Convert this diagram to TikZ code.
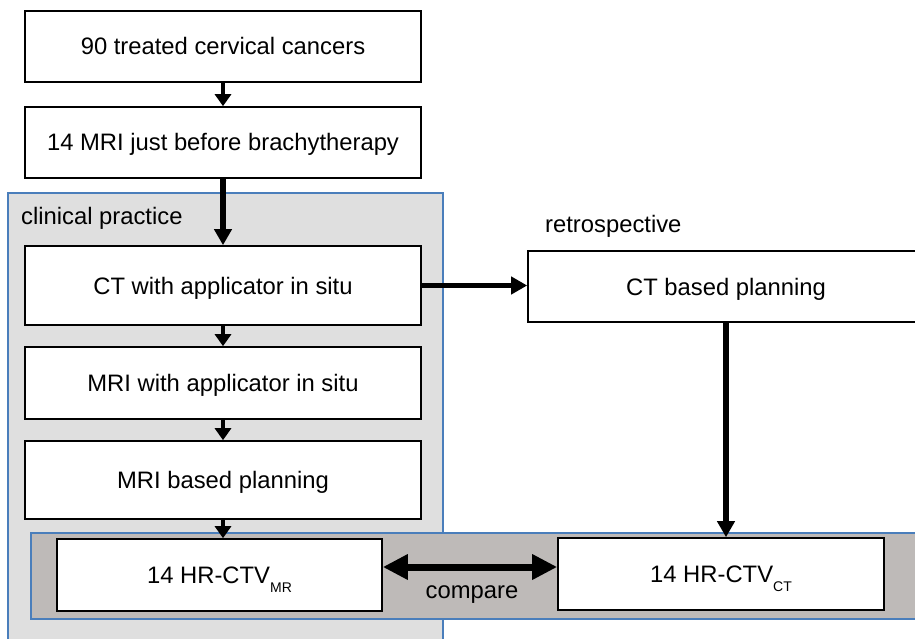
\documentclass[tikz,border=0pt]{standalone}
\usepackage{fontspec}
\setmainfont{Liberation Sans}
\usetikzlibrary{arrows.meta,calc}
\definecolor{panelblue}{RGB}{74,126,187}
\definecolor{lightpanel}{RGB}{223,223,223}
\definecolor{darkpanel}{RGB}{190,186,184}
\begin{document}
\begin{tikzpicture}[x=1pt,y=-1pt, font=\fontsize{23.8}{28}\selectfont,
 box/.style={draw=black, line width=1.6pt, fill=white, inner sep=0pt, text height=17pt, text depth=0pt, align=center},
 panel/.style={draw=panelblue, line width=2.2pt},
 thinarrow/.style={line width=3.5pt, -{Triangle[length=12pt,width=16pt]}},
 thickarrow/.style={line width=5.5pt, -{Triangle[length=16pt,width=17pt]}},
 cmparrow/.style={line width=7pt, {Triangle[length=25pt,width=24pt]}-{Triangle[length=25pt,width=24pt]}},
 lbl/.style={inner sep=0pt, anchor=base west}]
\useasboundingbox (0,0) rectangle (915,639);
\clip (0,0) rectangle (915,639);
\fill[white] (0,0) rectangle (915,639);
% panels
\draw[panel, fill=lightpanel] (8,193) rectangle (443,690);
\draw[panel, fill=darkpanel] (31,533) rectangle (960,619);
% boxes
\node[box, minimum width=396pt, minimum height=71pt] (b1) at (223,46.5) {90 treated cervical cancers};
\node[box, minimum width=396pt, minimum height=71pt] (b2) at (223,142.5) {14 MRI just before brachytherapy};
\node[box, minimum width=396pt, minimum height=79pt] (ct) at (223,285.5) {CT with applicator in situ};
\node[box, minimum width=396pt, minimum height=72pt] (mri) at (223,383) {MRI with applicator in situ};
\node[box, minimum width=396pt, minimum height=78pt] (mp) at (223,480) {MRI based planning};
\node[box, minimum width=396pt, minimum height=71pt] (ctp) at (726,286.5) {CT based planning};
\node[box, minimum width=325pt, minimum height=72pt] (hrmr) at (219.5,575) {14 HR-CTV\raisebox{-9pt}{\fontsize{14}{14}\selectfont MR}};
\node[box, minimum width=326pt, minimum height=72pt] (hrct) at (721,574) {14 HR-CTV\raisebox{-9pt}{\fontsize{14}{14}\selectfont CT}};
% labels
\node[lbl] (cp) at (21,225) {clinical practice};
\node[lbl] (rs) at (545,232) {retrospective};
\node[inner sep=0pt, anchor=base] (cmp) at (472,598) {compare};
% arrows
\draw[thinarrow] (b1) -- (b2);
\draw[thickarrow] (b2) -- (ct);
\draw[thickarrow] (ct.east) -- (ct.east -| ctp.west);
\draw[thinarrow] (ct) -- (mri);
\draw[thinarrow] (mri) -- (mp);
\draw[thinarrow] (mp.south) -- (mp.south |- hrmr.north);
\draw[thickarrow] (ctp.south) -- (ctp.south |- hrct.north);
\coordinate (c1) at ($(hrmr.east)+(0,-8)$);
\draw[cmparrow] (c1) -- (c1 -| hrct.west);
\end{tikzpicture}
\end{document}
